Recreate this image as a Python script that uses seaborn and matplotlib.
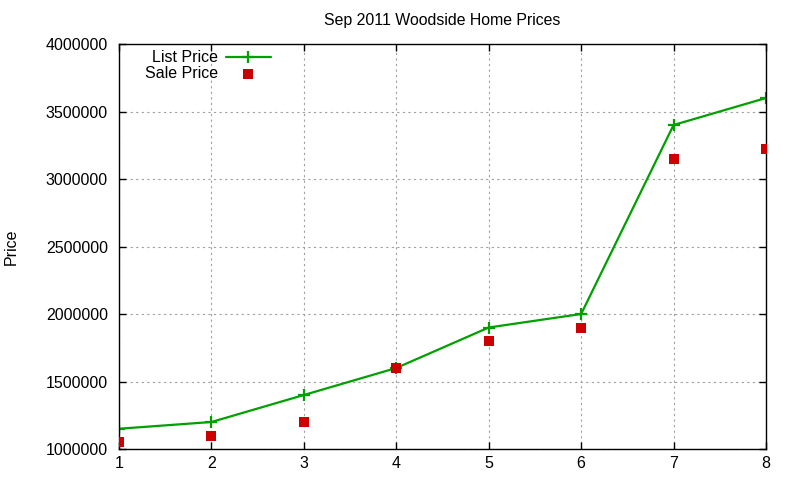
import matplotlib
matplotlib.use("Agg")
import matplotlib.pyplot as plt
import seaborn as sns
import pandas as pd

months = [1, 2, 3, 4, 5, 6, 7, 8]
list_price = [1150000, 1200000, 1400000, 1600000, 1900000, 2000000, 3400000, 3600000]
sale_price = [1050000, 1100000, 1200000, 1600000, 1800000, 1900000, 3150000, 3225000]
yticks = [1000000, 1500000, 2000000, 2500000, 3000000, 3500000, 4000000]

df = pd.DataFrame({"x": months, "list": list_price, "sale": sale_price})

sns.set_theme(style="white")
plt.rcParams['font.family'] = ['Liberation Sans', 'DejaVu Sans']

GREEN = "#00a000"
RED = "#cc0000"

fig = plt.figure(figsize=(8, 4.8), dpi=100)
ax = fig.add_axes([119/800, 31/480, (766-119)/800, (449-44)/480])

sns.lineplot(data=df, x="x", y="list", ax=ax, color=GREEN, linewidth=1.6,
             marker="+", markersize=9, markeredgewidth=1.6,
             markeredgecolor=GREEN, markerfacecolor=GREEN, label="List Price")
sns.scatterplot(data=df, x="x", y="sale", ax=ax, color=RED, marker="s",
                s=45, linewidth=0, label="Sale Price", zorder=3)

ax.set_xlim(1, 8)
ax.set_ylim(1000000, 4000000)
ax.set_xticks(months)
ax.set_yticks(yticks)
ax.set_yticklabels([str(v) for v in yticks])
ax.tick_params(axis="both", which="both", direction="in", length=5, width=1,
               top=True, right=True, bottom=True, left=True, labelsize=11.5,
               colors="black")
ax.tick_params(axis="y", pad=8)
ax.tick_params(axis="x", pad=5)
for sp in ax.spines.values():
    sp.set_color("black")
    sp.set_linewidth(1)
ax.grid(True, color="#a0a0a0", linestyle=(0, (2, 3)), linewidth=0.8)
ax.set_axisbelow(True)

ax.set_xlabel("")
ax.set_ylabel("Price", fontsize=11.5, color="black", labelpad=0)
ax.yaxis.set_label_coords(-0.155, 0.5)
ax.set_title("Sep 2011 Woodside Home Prices", fontsize=11.4, color="black", pad=14)

leg = ax.legend(loc="upper left", bbox_to_anchor=(0.03, 1.0), frameon=False,
                markerfirst=False, fontsize=11.5, handlelength=2.8,
                labelspacing=0.05, handletextpad=0.5, borderaxespad=0)
for t in leg.get_texts():
    t.set_ha("right")
    t.set_color("black")

fig.savefig("out.png", dpi=100)
